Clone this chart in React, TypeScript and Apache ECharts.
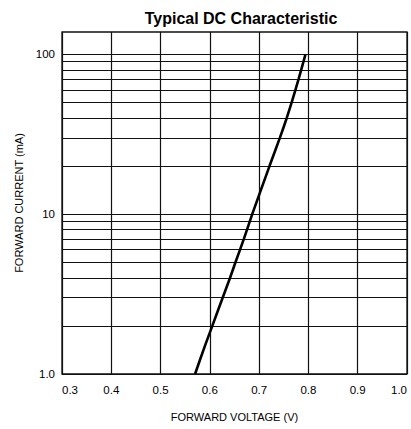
import React, { useEffect, useRef } from "react";
import * as echarts from "echarts";

const TITLE = "Typical DC Characteristic";
const X_NAME = "FORWARD VOLTAGE (V)";
const Y_NAME = "FORWARD CURRENT (mA)";

// Curve: forward voltage (V) vs forward current (mA)
const voltage = [0.570, 0.590, 0.605, 0.626, 0.641, 0.652, 0.669, 0.686, 0.721, 0.742, 0.756, 0.766, 0.780, 0.794];
const current = [1.0, 1.5, 2, 3, 4, 5, 7, 10, 20, 30, 40, 50, 70, 100];

// Log grid lines and labels
const yGridValues = [1, 2, 3, 4, 5, 6, 7, 8, 9, 10, 20, 30, 40, 50, 60, 70, 80, 90, 100];
const yLabelValues = [1, 10, 100];
const X_MIN = 0.3;
const X_MAX = 1.0;
const X_STEP = 0.1;
const Y_MIN = 1;
const Y_MAX = 138;

export default function App() {
  const ref = useRef<HTMLDivElement>(null);
  useEffect(() => {
    if (!ref.current) return;
    const chart = echarts.init(ref.current, null, { renderer: "svg" });
    const font = "'Liberation Sans', Arial, Helvetica, sans-serif";
    chart.setOption({
      animation: false,
      backgroundColor: "#ffffff",
      textStyle: { fontFamily: font, color: "#000" },
      title: {
        text: TITLE,
        left: 236,
        textAlign: "center",
        top: 5,
        textStyle: { fontFamily: font, fontSize: 16, fontWeight: "bold", color: "#000" },
      },
      grid: {
        left: 62,
        right: 4,
        top: 32,
        bottom: 55,
        show: true,
        borderColor: "#111",
        borderWidth: 1.3,
        backgroundColor: "transparent",
      },
      xAxis: {
        type: "value",
        min: X_MIN,
        max: X_MAX,
        interval: X_STEP,
        name: X_NAME,
        nameLocation: "middle",
        nameGap: 37,
        nameTextStyle: { fontFamily: font, fontSize: 11, color: "#000" },
        axisLine: { show: false },
        axisTick: { show: false },
        splitLine: { show: true, lineStyle: { color: "#111", width: 1.2 } },
        axisLabel: {
          margin: 10,
          fontFamily: font,
          fontSize: 11.5,
          color: "#000",
          alignMinLabel: "left",
          alignMaxLabel: "right",
          formatter: (v: number) => v.toFixed(1),
        },
      },
      yAxis: {
        type: "log",
        logBase: 10,
        min: Y_MIN,
        max: Y_MAX,
        name: Y_NAME,
        nameLocation: "middle",
        nameGap: 37,
        nameTextStyle: { fontFamily: font, fontSize: 11, color: "#000" },
        axisLine: { show: false },
        axisTick: { show: false, customValues: yGridValues },
        splitLine: { show: true, lineStyle: { color: "#111", width: 1.2 } },
        axisLabel: {
          customValues: yLabelValues,
          margin: 7,
          fontFamily: font,
          fontSize: 11.5,
          color: "#000",
          formatter: (v: number) => (v === 1 ? "1.0" : String(Math.round(v))),
        },
      },
      series: [
        {
          type: "line",
          data: voltage.map((v, i) => [v, current[i]]),
          showSymbol: false,
          smooth: 0.2,
          lineStyle: { color: "#000", width: 2.6 },
          silent: true,
        },
      ],
    });
    return () => chart.dispose();
  }, []);
  return (
    <div
      ref={ref}
      style={{ position: "fixed", left: 0, top: 0, width: 411, height: 429, background: "#fff" }}
    />
  );
}
